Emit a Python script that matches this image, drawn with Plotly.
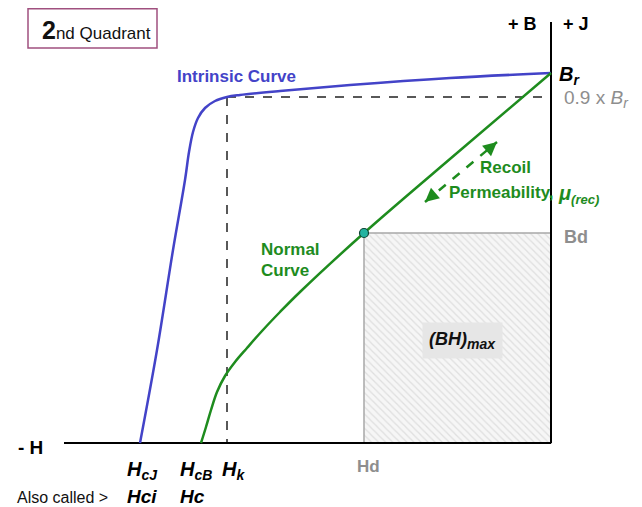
import plotly.graph_objects as go

# Schematic units (arbitrary): H negative to the left of the B axis, B upward
intrinsic_H = [0, -101, -201, -271, -311, -324, -336, -346, -353, -358, -362, -366, -378, -394, -411]
intrinsic_B = [370, 365, 358, 352, 348, 346, 342, 335, 325, 311, 291, 263, 193, 93, 0]

normal_H = [0, -94, -187, -251, -271, -289, -304, -316, -326, -334, -340, -345, -350]
normal_B = [370, 290, 210, 151, 131, 112, 95, 81, 67, 51, 33, 16, 0]

Br = 370
Hk = -324
B_knee = 346
Hd = -187
Bd = 210
H_min = -487
B_top = 421

recoil_H = [-126, -54]
recoil_B = [241, 301]

BLUE = "#4343C8"
GREEN = "#1E8C1E"
GRAY = "#8E8E8E"
FONT = "Liberation Sans, Arial, sans-serif"

fig = go.Figure()

# (BH)max hatched box
fig.add_trace(go.Scatter(
    x=[Hd, 0, 0, Hd, Hd], y=[Bd, Bd, 0, 0, Bd], mode="lines",
    fill="toself", fillcolor="#f3f3f3",
    fillpattern=dict(shape="\\", fgcolor="#c8c8c8", bgcolor="#f6f6f6", size=5, solidity=0.25),
    line=dict(color="#a8a8a8", width=1.5), hoverinfo="skip", showlegend=False))

# dashed guide lines
fig.add_trace(go.Scatter(x=[Hk, 0], y=[B_knee, B_knee], mode="lines",
                         line=dict(color="#222222", width=1.5, dash="dash"), showlegend=False))
fig.add_trace(go.Scatter(x=[Hk, Hk], y=[B_knee, 0], mode="lines",
                         line=dict(color="#222222", width=1.5, dash="dash"), showlegend=False))

# axes
fig.add_trace(go.Scatter(x=[H_min, 0], y=[0, 0], mode="lines",
                         line=dict(color="black", width=2), showlegend=False))
fig.add_trace(go.Scatter(x=[0, 0], y=[0, B_top], mode="lines",
                         line=dict(color="black", width=2), showlegend=False))

# curves
fig.add_trace(go.Scatter(x=intrinsic_H, y=intrinsic_B, mode="lines",
                         line=dict(color=BLUE, width=2.5, shape="spline", smoothing=1.0), showlegend=False))
fig.add_trace(go.Scatter(x=normal_H, y=normal_B, mode="lines",
                         line=dict(color=GREEN, width=2.5, shape="spline", smoothing=1.0), showlegend=False))

# recoil dashed arrow
fig.add_trace(go.Scatter(x=recoil_H, y=recoil_B, mode="lines",
                         line=dict(color=GREEN, width=2.5, dash="dash"), showlegend=False))

# operating point
fig.add_trace(go.Scatter(x=[Hd], y=[Bd], mode="markers",
                         marker=dict(size=9, color="#22B3A0", line=dict(color="#114433", width=1.2)),
                         showlegend=False))

ann = []
def T(x, y, text, size=14, color="black", xanchor="center", **kw):
    ann.append(dict(x=x, y=y, xref="x", yref="y", text=text, showarrow=False,
                    font=dict(family=FONT, size=size, color=color), xanchor=xanchor, yanchor="middle", **kw))

def sub(s, size):
    return "<sub><span style='font-size:%dpx'><b><i>%s</i></b></span></sub>" % (size, s)

# arrowheads
ann.append(dict(x=recoil_H[1], y=recoil_B[1], xref="x", yref="y", ax=-7, ay=6, text="",
                showarrow=True, arrowhead=2, arrowsize=1.1, arrowwidth=2.5, arrowcolor=GREEN, standoff=0))
ann.append(dict(x=recoil_H[0], y=recoil_B[0], xref="x", yref="y", ax=7, ay=-6, text="",
                showarrow=True, arrowhead=2, arrowsize=1.1, arrowwidth=2.5, arrowcolor=GREEN, standoff=0))

T(-29, 419, "<b>+ B</b>", 18)
T(25, 419, "<b>+ J</b>", 18)
T(6, 368, "<b><i>B</i></b>" + sub("r", 14), 20, xanchor="left")
T(11, 344, "0.9 x <i>B</i><sub><span style='font-size:14px'><i>r</i></span></sub>", 19, GRAY, xanchor="left")
T(11, 206, "<b>Bd</b>", 18, GRAY, xanchor="left")
T(-46, 276, "<b>Recoil</b>", 17, GREEN)
T(-104, 251, "<b>Permeability,</b>", 17, GREEN, xanchor="left")
T(5, 249, "<b><i>μ</i></b>" + sub("(rec)", 13), 20, GREEN, xanchor="left")
T(-376, 367, "<b>Intrinsic Curve</b>", 17, BLUE, xanchor="left")
T(-292, 194, "<b>Normal</b>", 17, GREEN, xanchor="left")
T(-292, 173, "<b>Curve</b>", 17, GREEN, xanchor="left")
T(-89, 103, "<b><i>(BH)</i></b>" + sub("max", 14), 18, "#111111",
  bgcolor="#e6e6e6", borderpad=6)
T(-521, -4, "<b>- H</b>", 19)
T(-426, -27, "<b><i>H</i></b>" + sub("cJ", 14), 20, xanchor="left")
T(-373, -27, "<b><i>H</i></b>" + sub("cB", 14), 20, xanchor="left")
T(-331, -27, "<b><i>H</i></b>" + sub("k", 14), 20, xanchor="left")
T(-183, -23, "<b>Hd</b>", 17, GRAY)
T(-536, -54, "Also called &gt;", 16, "#111111", xanchor="left")
T(-426, -53, "<b><i>Hci</i></b>", 19, xanchor="left")
T(-373, -53, "<b><i>Hc</i></b>", 19, xanchor="left")
T(-511, 413, "<b>2</b><span style='font-size:17px'>nd Quadrant</span>", 25, "#111111", xanchor="left")

fig.add_shape(type="rect", x0=-523, x1=-394, y0=395, y1=434.2, xref="x", yref="y",
              line=dict(color="#A0507F", width=1.5), fillcolor="rgba(0,0,0,0)")

# page body has an 8px margin; the axis ranges absorb that offset
fig.update_layout(
    width=634, height=499, margin=dict(l=0, r=0, t=0, b=0),
    paper_bgcolor="white", plot_bgcolor="white", annotations=ann,
    xaxis=dict(range=[-543, 91], visible=False, fixedrange=True),
    yaxis=dict(range=[-64, 435], visible=False, fixedrange=True),
    showlegend=False,
)
fig.write_html("out.html")
